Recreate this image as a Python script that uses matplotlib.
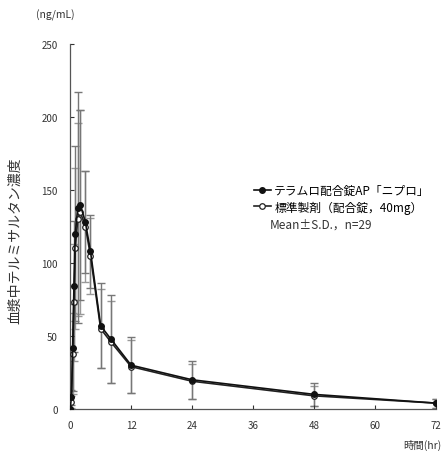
import numpy as np
import matplotlib.pyplot as plt

plt.rcParams['font.family'] = ['Noto Sans CJK JP', 'DejaVu Sans']

# 採血時間 (hr)
times = [0, 0.25, 0.5, 0.75, 1, 1.5, 2, 3, 4, 6, 8, 12, 24, 48, 72]
# テラムロ配合錠AP「ニプロ」
test_mean = [0, 8, 42, 84, 120, 138, 140, 128, 108, 57, 48, 30, 20, 10, 4]
test_sd = [0, 5, 30, 45, 60, 79, 65, 35, 25, 29, 30, 19, 13, 8, 3]
# 標準製剤
ref_mean = [0, 5, 38, 73, 110, 130, 135, 125, 105, 55, 46, 29, 19, 9, 4]
ref_sd = [0, 4, 28, 40, 55, 66, 70, 38, 26, 27, 28, 18, 12, 7, 3]

xticks = [0, 12, 24, 36, 48, 60, 72]
yticks = [0, 50, 100, 150, 200, 250]

fig = plt.figure(figsize=(4.44, 4.52), dpi=100)
ax = fig.add_axes([0.158, 0.093, 0.824, 0.807])

ax.errorbar(times, ref_mean, yerr=ref_sd, fmt='none', ecolor='#999999',
            elinewidth=1.0, capsize=3, capthick=1.0, zorder=1)
ax.errorbar(times, test_mean, yerr=test_sd, fmt='none', ecolor='#777777',
            elinewidth=1.0, capsize=3, capthick=1.0, zorder=1)
ax.plot(times, ref_mean, color='#222222', lw=1.2, marker='o', ms=4,
        mfc='white', mec='#222222', mew=0.9, zorder=3,
        label='標準製剤（配合錠，40mg）')
ax.plot(times, test_mean, color='#111111', lw=1.2, marker='o', ms=4,
        mfc='#111111', mec='#111111', zorder=4,
        label='テラムロ配合錠AP「ニプロ」')

ax.set_xlim(0, 72)
ax.set_ylim(0, 250)
ax.set_xticks(xticks)
ax.set_yticks(yticks)
ax.tick_params(labelsize=7, direction='in', length=3, width=0.8,
               colors='#333333')
ax.tick_params(axis='y', pad=9)
ax.tick_params(axis='x', pad=8)
for s in ['top', 'right']:
    ax.spines[s].set_visible(False)
for s in ['left', 'bottom']:
    ax.spines[s].set_color('#555555')
    ax.spines[s].set_linewidth(0.9)

# 凡例
h, l = ax.get_legend_handles_labels()
ax.legend(h[::-1], l[::-1], loc='upper left', bbox_to_anchor=(0.49, 0.63),
          frameon=False, fontsize=8.5, handlelength=1.4, handletextpad=0.3,
          borderaxespad=0, labelspacing=0.3)
ax.text(0.545, 0.507, 'Mean±S.D.，n=29', transform=ax.transAxes,
        fontsize=8.5, color='#333333', va='center')

fig.text(0.08, 0.965, '(ng/mL)', fontsize=7.5, color='#333333', va='center')
fig.text(0.035, 0.468, '血漿中テルミサルタン濃度', rotation=90, fontsize=10,
         color='#333333', ha='center', va='center')
fig.text(0.995, 0.003, '時間(hr)', fontsize=7.5, color='#333333', ha='right',
         va='bottom')

plt.savefig('out.png', dpi=100)
